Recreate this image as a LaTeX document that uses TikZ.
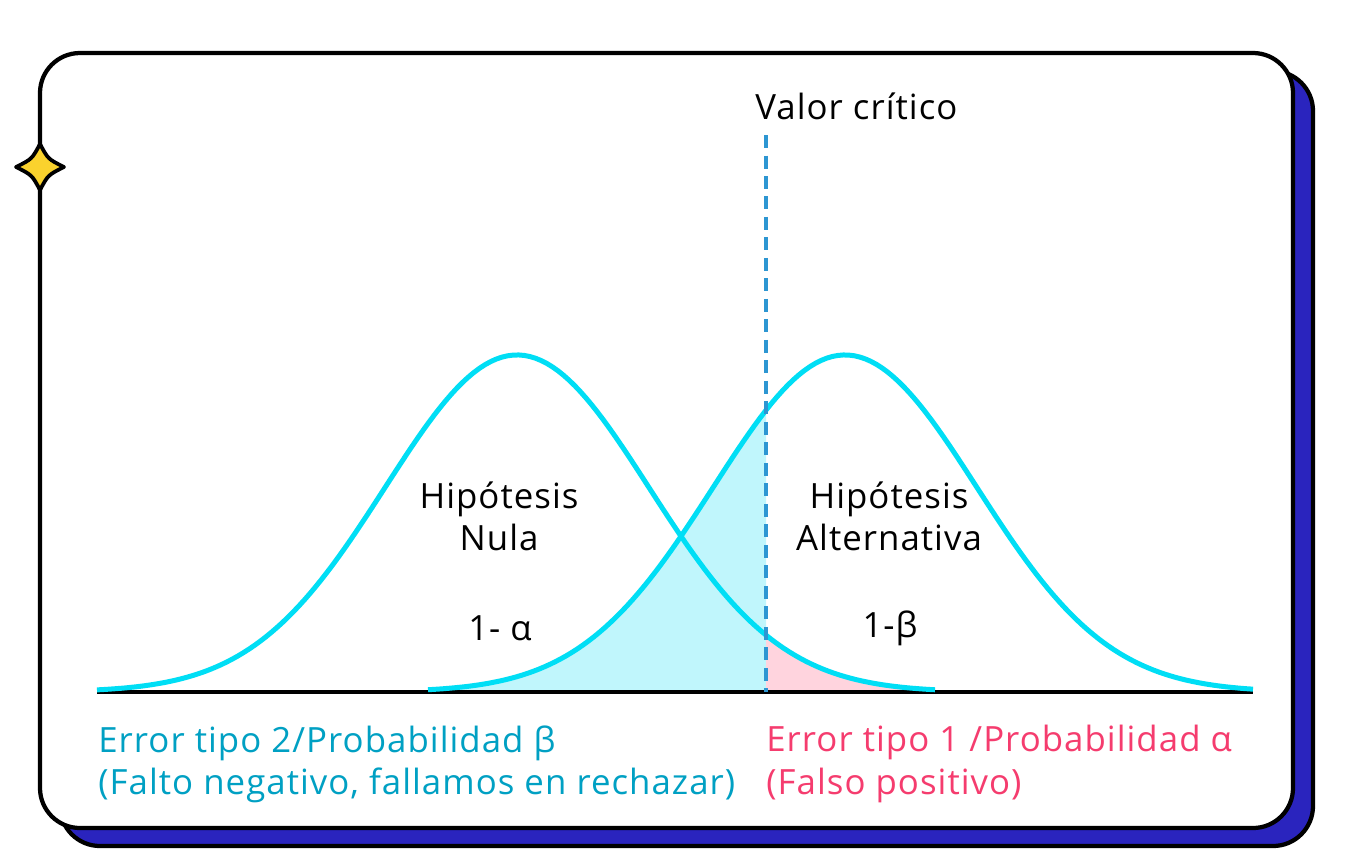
\documentclass[tikz,border=0pt]{standalone}
\usepackage{fontspec}
\setmainfont{Open Sans}[LetterSpace=3]
\usepackage{tikz}
\usetikzlibrary{arrows.meta,positioning,calc}
\definecolor{cardBlue}  {RGB}{ 42, 36,190}
\definecolor{curveCyan} {RGB}{  0,222,245}
\definecolor{betaFill}  {RGB}{192,246,252}
\definecolor{alphaFill} {RGB}{255,212,222}
\definecolor{critBlue}  {RGB}{ 45,150,210}
\definecolor{errTeal}   {RGB}{  0,160,195}
\definecolor{errPink}   {RGB}{245, 60,110}
\definecolor{starGold}  {RGB}{250,210, 45}

\newcommand{\nulla}[1]{692-337*exp(-0.5*((#1-517)/132)^2)}
\newcommand{\altern}[1]{692-337*exp(-0.5*((#1-845)/132)^2)}

\begin{document}
\begin{tikzpicture}[
  x=0.02cm, y=-0.02cm,
  every node/.style={font=\fontsize{19.8}{24}\selectfont, inner sep=0pt},
  card/.style={line width=0.085cm, rounded corners=0.8cm},
  curve/.style={line width=0.1cm, curveCyan, line join=round},
  crit/.style={line width=0.075cm, critBlue, dash pattern=on 0.26cm off 0.15cm},
  lbl/.style={align=center},
  err/.style={align=left, anchor=west}
]
\useasboundingbox (0,0) rectangle (1356,850);

% card with its shadow
\draw[card, fill=cardBlue] (60,71) rectangle (1313,846);
\draw[card, fill=white] (40,53) rectangle (1293,828);

% star on the left edge
\draw[line width=0.075cm, fill=starGold, line join=round]
  (40,144) .. controls (48,159) .. (64,167)
  .. controls (48,175) .. (40,190)
  .. controls (32,175) .. (16,167)
  .. controls (32,159) .. (40,144) -- cycle;

% shaded areas
\fill[betaFill] (440,692) -- plot[domain=440:766, samples=80] (\x, {\altern{\x}}) -- (766,692) -- cycle;
\fill[alphaFill] (766,692) -- plot[domain=766:930, samples=60] (\x, {\nulla{\x}}) -- (930,692) -- cycle;

% axis
\coordinate (ax0) at (97,692);
\coordinate (ax1) at (1253,692);
\draw[line width=0.065cm] (ax0) -- (ax1);

% the two curves
\draw[curve] plot[domain=97:935, samples=150] (\x, {\nulla{\x}});
\draw[curve] plot[domain=428:1253, samples=150] (\x, {\altern{\x}});

% critical value
\coordinate (ctop) at (766,135);
\coordinate (cbot) at (766,692);
\draw[crit] (ctop) -- (cbot);
\node[anchor=west] (valor) at (755,106) {Valor crítico};

% labels
\node[lbl] (nula) at (499,516) {Hipótesis\\Nula};
\node[lbl] (alt) at (889,516) {Hipótesis\\Alternativa};
\node (unoalfa) at (500,628) {1- α};
\node (unobeta) at (890,628) {1-β};

\node[err, text=errTeal] (errdos) at (98,764)
  {Error tipo 2/Probabilidad β\\(Falto negativo, fallamos en rechazar)};
\node[err, text=errPink] (erruno) at (766,764)
  {Error tipo 1 /Probabilidad α\\(Falso positivo)};
\end{tikzpicture}
\end{document}
